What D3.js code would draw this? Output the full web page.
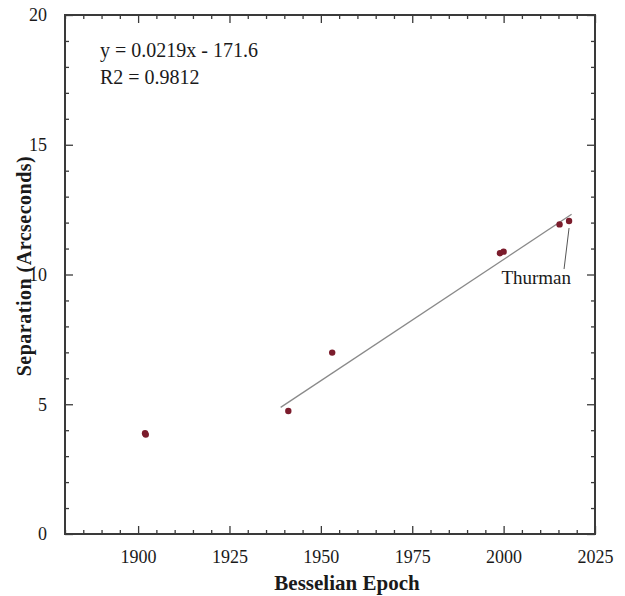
<!DOCTYPE html>
<html><head><meta charset="utf-8">
<script src="https://cdn.jsdelivr.net/npm/d3@7"></script>
<style>body{margin:0;background:#fff}svg{display:block}</style>
</head><body><svg id="c" width="625" height="596"></svg>
<script>
const epochs = [1901.9, 1902.1, 1941.1, 1953.1, 1999.0, 2000.0, 2015.3, 2017.9];
const separations = [3.88, 3.83, 4.74, 6.99, 10.82, 10.88, 11.93, 12.06];
const trendX = [1939.0, 2018.6];
const trendY = [4.88, 12.32];
const xTicks = [1900, 1925, 1950, 1975, 2000, 2025];
const yTicks = [0, 5, 10, 15, 20];
const equationLabel = "y = 0.0219x - 171.6";
const r2Label = "R2 = 0.9812";
const calloutLabel = "Thurman";

const FONT = "'Liberation Serif', 'Times New Roman', Times, serif";
const svg = d3.select("#c");
const L = 65, R = 595, T = 15, B = 534;
const x = d3.scaleLinear().domain([1880, 2025]).range([L, R]);
const y = d3.scaleLinear().domain([0, 20]).range([B, T]);
const axisColor = "#3a3a3a";

const xMinor = d3.range(1880, 2026, 5).filter(v => !xTicks.includes(v));
const yMinor = d3.range(0, 21, 1).filter(v => !yTicks.includes(v));

function styleAxis(g){ g.attr("font-family", FONT); g.select(".domain").remove(); g.selectAll("line").attr("stroke", axisColor).attr("stroke-width", 1.3); }

// bottom
svg.append("g").attr("transform",`translate(0,${B})`).call(d3.axisBottom(x).tickValues(xTicks).tickSize(-8).tickPadding(16).tickFormat(d3.format("d"))).call(styleAxis).call(g=>g.selectAll("text").attr("font-size",18).attr("fill","#1a1a1a"));
svg.append("g").attr("transform",`translate(0,${B})`).call(d3.axisBottom(x).tickValues(xMinor).tickSize(-4).tickFormat("")).call(styleAxis);
// top
svg.append("g").attr("transform",`translate(0,${T})`).call(d3.axisTop(x).tickValues(xTicks).tickSize(-8).tickFormat("")).call(styleAxis);
svg.append("g").attr("transform",`translate(0,${T})`).call(d3.axisTop(x).tickValues(xMinor).tickSize(-4).tickFormat("")).call(styleAxis);
// left
svg.append("g").attr("transform",`translate(${L},0)`).call(d3.axisLeft(y).tickValues(yTicks).tickSize(-8).tickPadding(18)).call(styleAxis).call(g=>g.selectAll("text").attr("font-size",18).attr("fill","#1a1a1a"));
svg.append("g").attr("transform",`translate(${L},0)`).call(d3.axisLeft(y).tickValues(yMinor).tickSize(-4).tickFormat("")).call(styleAxis);
// right
svg.append("g").attr("transform",`translate(${R},0)`).call(d3.axisRight(y).tickValues(yTicks).tickSize(-8).tickFormat("")).call(styleAxis);
svg.append("g").attr("transform",`translate(${R},0)`).call(d3.axisRight(y).tickValues(yMinor).tickSize(-4).tickFormat("")).call(styleAxis);

// frame
svg.append("rect").attr("x",L).attr("y",T).attr("width",R-L).attr("height",B-T).attr("fill","none").attr("stroke",axisColor).attr("stroke-width",2);

// trend line
svg.append("line").attr("x1",x(trendX[0])).attr("y1",y(trendY[0])).attr("x2",x(trendX[1])).attr("y2",y(trendY[1])).attr("stroke","#8a8a8a").attr("stroke-width",1.3);

// points
svg.append("g").selectAll("circle").data(epochs.map((e,i)=>[e,separations[i]])).join("circle")
  .attr("cx",d=>x(d[0])).attr("cy",d=>y(d[1])).attr("r",3.2).attr("fill","#7b1c2c");

// callout
const last = epochs.length-1;
svg.append("line").attr("x1",x(epochs[last])).attr("y1",y(separations[last])+7)
  .attr("x2",x(epochs[last])-5).attr("y2",y(separations[last])+48).attr("stroke","#555").attr("stroke-width",1);
const tg = svg.append("g").attr("font-family", FONT).attr("fill","#1a1a1a");
tg.append("text").attr("x",x(epochs[last])+2).attr("y",y(separations[last])+63).attr("text-anchor","end").attr("font-size",19).text(calloutLabel);

// equation
tg.append("text").attr("x",100).attr("y",57).attr("font-size",20).text(equationLabel);
tg.append("text").attr("x",100).attr("y",84).attr("font-size",20).text(r2Label);

// axis titles
tg.append("text").attr("x",(L+R)/2+17).attr("y",590).attr("text-anchor","middle").attr("font-size",21).attr("font-weight","bold").text("Besselian Epoch");
tg.append("text").attr("transform",`translate(31,266) rotate(-90)`).attr("text-anchor","middle").attr("font-size",20).attr("font-weight","bold").attr("letter-spacing",0.5).text("Separation (Arcseconds)");
</script></body></html>
